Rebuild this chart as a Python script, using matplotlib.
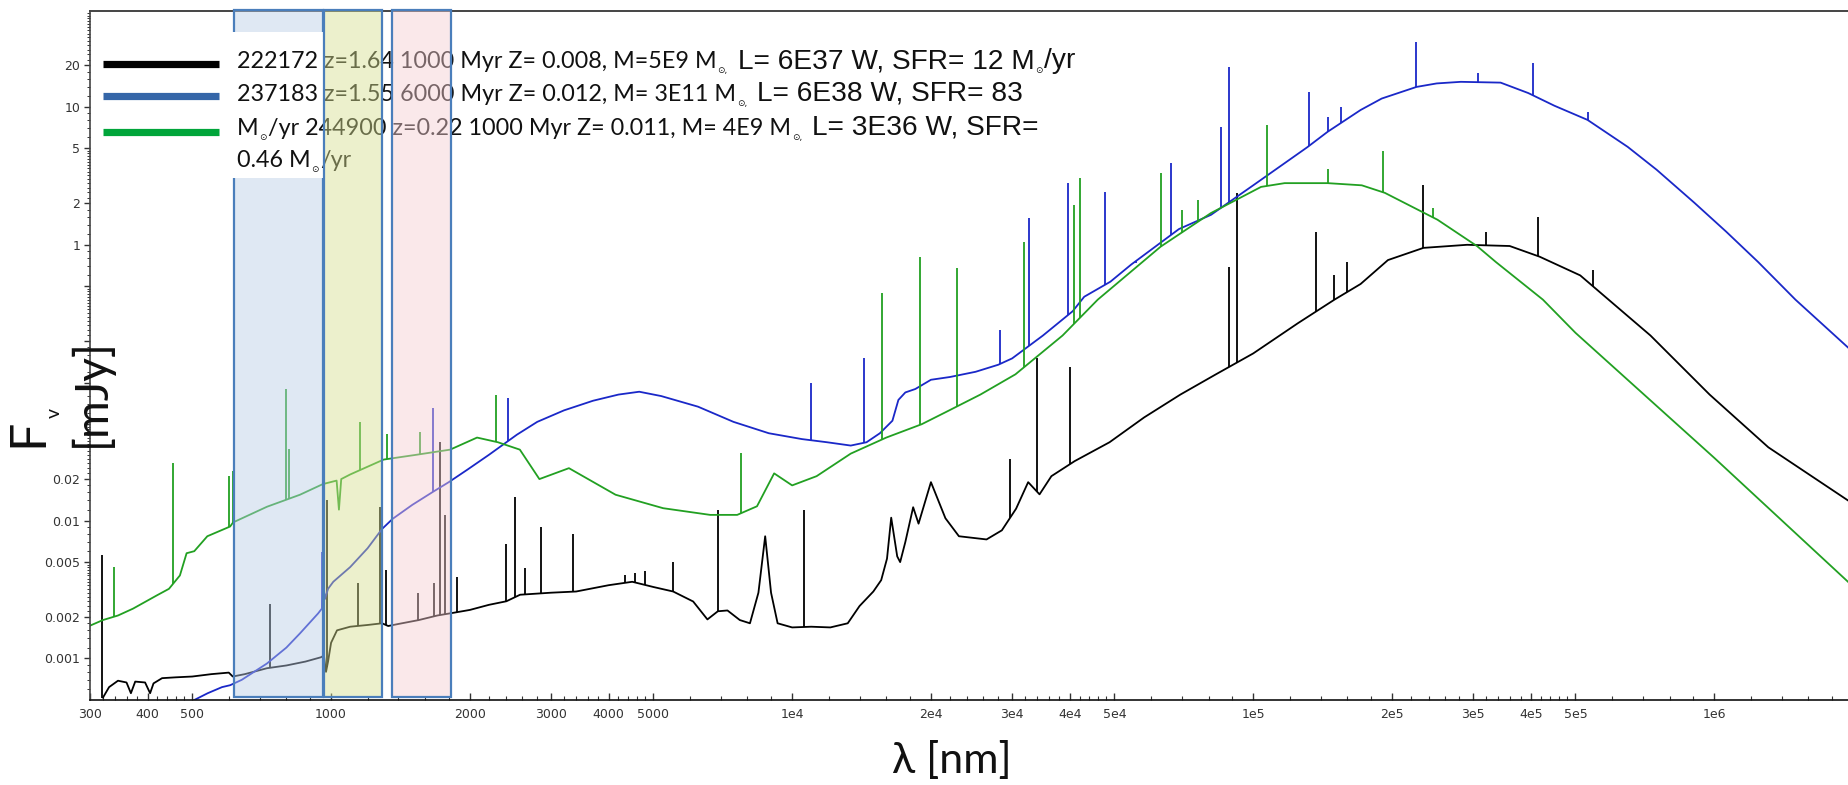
import numpy as np
import matplotlib
matplotlib.use("Agg")
import matplotlib.pyplot as plt
from matplotlib import font_manager
from matplotlib.patches import Rectangle
from matplotlib.lines import Line2D
from matplotlib.transforms import IdentityTransform, blended_transform_factory
from matplotlib.ticker import FixedLocator, FixedFormatter

# ---------------------------------------------------------------- data
# Galaxy 222172 (black): continuum, wavelength [nm] / flux density [mJy]
black_wl = [320, 330, 345, 360, 368, 376, 395, 405, 412, 430, 460, 500, 550, 600, 612,
            650, 726, 800, 880, 950, 965, 975, 985, 1000, 1030, 1100, 1200, 1290, 1330,
            1400, 1550, 1700, 1850, 2000, 2200, 2400, 2570, 3000, 3400, 4000, 4500, 5000,
            5520, 6100, 6550, 6900, 7240, 7700, 8100, 8450, 8740, 9000, 9300, 10000, 11000,
            12100, 13200, 14000, 15000, 15600, 16060, 16400, 16900, 17150, 17600, 18300,
            18800, 20000, 21500, 23000, 26400, 28500, 30600, 32500, 34400, 36500, 41000,
            48800, 58000, 69500, 83000, 100000, 125000, 150000, 171000, 196000, 234000,
            291000, 360000, 418000, 512000, 727000, 977000, 1310000, 1950000]
black_fx = [5.2e-4, 6.2e-4, 6.9e-4, 6.7e-4, 5.6e-4, 6.8e-4, 6.7e-4, 5.6e-4, 6.6e-4, 7.2e-4,
            7.3e-4, 7.4e-4, 7.7e-4, 7.9e-4, 7.4e-4, 7.7e-4, 8.5e-4, 8.9e-4, 9.5e-4, 1.02e-3,
            1.05e-3, 8.0e-4, 9.5e-4, 1.3e-3, 1.6e-3, 1.7e-3, 1.75e-3, 1.8e-3, 1.72e-3, 1.78e-3,
            1.9e-3, 2.05e-3, 2.15e-3, 2.25e-3, 2.45e-3, 2.6e-3, 2.9e-3, 3.0e-3, 3.06e-3, 3.4e-3,
            3.6e-3, 3.3e-3, 3.06e-3, 2.59e-3, 1.92e-3, 2.2e-3, 2.23e-3, 1.9e-3, 1.8e-3, 3.0e-3,
            7.7e-3, 3.0e-3, 1.8e-3, 1.68e-3, 1.7e-3,
            1.68e-3, 1.8e-3, 2.4e-3, 3.06e-3, 3.7e-3, 5.3e-3, 1.05e-2, 5.5e-3, 5.0e-3, 7.0e-3,
            1.25e-2, 9.5e-3, 1.9e-2, 1.04e-2, 7.7e-3, 7.3e-3, 8.5e-3, 1.22e-2, 1.9e-2, 1.55e-2,
            2.1e-2, 2.7e-2, 3.7e-2, 5.6e-2, 8.2e-2, 1.15e-1, 1.63e-1, 2.7e-1, 4.0e-1, 5.2e-1,
            7.75e-1, 9.5e-1, 1.0, 9.8e-1, 8.2e-1, 6.0e-1, 2.2e-1, 8.2e-2, 3.4e-2, 1.4e-2]
black_line_wl = [319, 737, 980, 1146, 1278, 1317, 1540, 1668, 1723, 1764, 1875, 2390, 2500,
                 2630, 2850, 3350, 4340, 4560, 4800, 5520, 6900, 10600, 29700, 34000, 40000,
                 88700, 92000, 136800, 150000, 160000, 234000, 320000, 415000, 545000]
black_line_fx = [5.6e-3, 2.5e-3, 1.42e-2, 3.5e-3, 1.26e-2, 4.4e-3, 3.0e-3, 3.5e-3, 3.7e-2,
                 1.1e-2, 3.9e-3, 6.8e-3, 1.49e-2, 4.5e-3, 9.0e-3, 8.0e-3, 4.0e-3, 4.2e-3,
                 4.3e-3, 5.0e-3, 1.2e-2, 1.2e-2, 2.8e-2, 1.5e-1, 1.3e-1, 0.69, 2.38, 1.23,
                 0.6, 0.75, 2.7, 1.24, 1.59, 0.66]

# Galaxy 237183 (blue)
blue_wl = [505, 540, 580, 604, 640, 700, 726, 800, 856, 937, 955, 962, 970, 985, 1011, 1100,
           1200, 1290, 1360, 1500, 1665, 1800, 1975, 2200, 2530, 2800, 3200, 3700, 4200, 4660,
           5200, 6250, 7460, 8900, 10500, 11900, 13400, 14500, 15500, 16500, 17000, 17600,
           18500, 20000, 22000, 25000, 28000, 30000, 35000, 40600, 43000, 49000, 54400,
           69000, 81000, 100000, 131000, 145000, 171000, 190000, 226000, 250000, 282000,
           344000, 395000, 450000, 531000, 649000, 750000, 905000, 1060000, 1245000,
           1500000, 1950000]
blue_fx = [5.0e-4, 5.6e-4, 6.2e-4, 6.4e-4, 7.0e-4, 8.5e-4, 9.2e-4, 1.2e-3, 1.52e-3, 2.12e-3,
           2.3e-3, 3.5e-3, 2.7e-3, 3.2e-3, 3.6e-3, 4.6e-3, 6.3e-3, 8.7e-3, 1.03e-2, 1.3e-2,
           1.62e-2, 1.9e-2, 2.34e-2, 3.0e-2, 4.2e-2, 5.2e-2, 6.3e-2, 7.4e-2, 8.2e-2, 8.6e-2,
           8.0e-2, 6.7e-2, 5.2e-2, 4.3e-2, 3.9e-2, 3.7e-2, 3.5e-2, 3.7e-2, 4.3e-2, 5.3e-2,
           7.5e-2, 8.5e-2, 9.0e-2, 1.05e-1, 1.1e-1, 1.2e-1, 1.35e-1, 1.5e-1, 2.2e-1, 3.3e-1,
           4.2e-1, 5.4e-1, 7.2e-1, 1.3, 1.65, 2.7, 5.1, 6.6, 9.5, 11.5, 13.96, 14.8, 15.2,
           15.0, 12.6, 10.2, 8.05, 5.13, 3.5, 2.02, 1.25, 0.75, 0.4, 0.18]
blue_line_wl = [955, 1665, 2420, 11000, 14300, 28200, 32600, 39600, 47700, 55600, 66300,
                85000, 88700, 132000, 145000, 155000, 226000, 308000, 404000, 531000]
blue_line_fx = [5.9e-3, 6.5e-2, 7.7e-2, 0.1, 0.15, 0.24, 1.57, 2.8, 2.42, 0.74, 3.93,
                7.2, 19.5, 12.8, 8.4, 10.0, 29.6, 17.6, 20.8, 9.2]

# Galaxy 244900 (green)
green_wl = [300, 320, 345, 372, 419, 445, 470, 486, 505, 539, 604, 613, 726, 856, 960, 1028,
            1040, 1052, 1100, 1300, 1530, 1812, 2073, 2300, 2567, 2830, 3280, 4140, 5250,
            6640, 7600, 8390, 9140, 10000, 11300, 13400, 16000, 19100, 21500, 25600, 30500,
            38600, 46000, 63000, 81000, 104000, 117000, 145000, 172000, 193000, 251000,
            306000, 336000, 425000, 500000, 1000000, 1950000]
green_fx = [1.73e-3, 1.9e-3, 2.05e-3, 2.3e-3, 2.87e-3, 3.2e-3, 4.0e-3, 5.8e-3, 6.0e-3, 7.7e-3,
            9.06e-3, 9.7e-3, 1.26e-2, 1.54e-2, 1.84e-2, 1.95e-2, 1.2e-2, 2.0e-2, 2.16e-2,
            2.77e-2, 3.0e-2, 3.27e-2, 4.0e-2, 3.7e-2, 3.27e-2, 2.0e-2, 2.4e-2, 1.54e-2,
            1.23e-2, 1.1e-2, 1.1e-2, 1.27e-2, 2.2e-2, 1.8e-2, 2.1e-2, 3.06e-2, 4.0e-2, 5.0e-2,
            6.1e-2, 8.2e-2, 1.15e-1, 2.2e-1, 4.0e-1, 9.7e-1, 1.7, 2.63, 2.8, 2.8, 2.7, 2.38,
            1.52, 0.977, 0.75, 0.4, 0.23, 0.0285, 3.6e-3]
green_line_wl = [338, 453, 600, 612, 799, 812, 1155, 1320, 1562, 2283, 7760, 15700, 18900,
                 22800, 31800, 40800, 42000, 63000, 70000, 76000, 107000, 145000, 191000,
                 246000]
green_line_fx = [4.6e-3, 2.6e-2, 2.1e-2, 2.3e-2, 9.06e-2, 3.3e-2, 5.2e-2, 4.28e-2, 4.41e-2,
                 8.18e-2, 3.1e-2, 0.45, 0.82, 0.68, 1.05, 1.95, 3.06, 3.32, 1.8, 2.12, 7.4,
                 3.55, 4.8, 1.85]

# Observed filter windows [nm]
band_lo = [615, 965, 1355]
band_hi = [960, 1290, 1820]

x_major = [300, 400, 500, 1000, 2000, 3000, 4000, 5000, 1e4, 2e4, 3e4, 4e4, 5e4,
           1e5, 2e5, 3e5, 4e5, 5e5, 1e6]
x_labels = ["300", "400", "500", "1000", "2000", "3000", "4000", "5000", "1e4", "2e4",
            "3e4", "4e4", "5e4", "1e5", "2e5", "3e5", "4e5", "5e5", "1e6"]
# the mid-range labels sit under the axis title and are left blank
y_major = [0.001, 0.002, 0.005, 0.01, 0.02, 0.05, 0.1, 0.2, 0.5, 1, 2, 5, 10, 20]
y_labels = ["0.001", "0.002", "0.005", "0.01", "0.02", "", "", "", "",
            "1", "2", "5", "10", "20"]

# ---------------------------------------------------------------- fonts
installed = {f.name for f in font_manager.fontManager.ttflist}
def pick(*names):
    return [n for n in names if n in installed] + ["DejaVu Sans"]

MAIN = pick("Lato", "Open Sans")
NARROW = pick("Liberation Sans Narrow", "DejaVu Sans Condensed", "Liberation Sans")

# ---------------------------------------------------------------- figure
W, H = 1848, 785
fig = plt.figure(figsize=(W / 100, H / 100), dpi=100)
ax = fig.add_axes([90 / W, 85 / H, (W - 90) / W, 689 / H])
ax.set_xscale("log")
ax.set_yscale("log")
ax.set_xlim(300, 1.95e6)
ax.set_ylim(5.0e-4, 49.6)

def minor_values(e0, e1):
    vals = []
    for e in range(e0, e1 + 1):
        d = 10.0 ** e
        vals += [d * m for m in np.arange(1.2, 4.81, 0.2)] + [d * m for m in (6, 7, 8, 9)]
    return vals

ax.xaxis.set_major_locator(FixedLocator(x_major))
ax.xaxis.set_major_formatter(FixedFormatter(x_labels))
ax.xaxis.set_minor_locator(FixedLocator(minor_values(2, 6)))
ax.yaxis.set_major_locator(FixedLocator(y_major))
ax.yaxis.set_major_formatter(FixedFormatter(y_labels))
ax.yaxis.set_minor_locator(FixedLocator(minor_values(-4, 1)))
ax.xaxis.set_minor_formatter(FixedFormatter([]))
ax.yaxis.set_minor_formatter(FixedFormatter([]))

ax.tick_params(axis="x", which="both", direction="in", colors="#333333",
               labelsize=9, pad=6)
ax.tick_params(axis="x", which="major", length=5, width=1)
ax.tick_params(axis="x", which="minor", length=3, width=0.8)
ax.tick_params(axis="y", which="both", direction="out", colors="#333333",
               labelsize=9, pad=3)
ax.tick_params(axis="y", which="major", length=4, width=1)
ax.tick_params(axis="y", which="minor", length=2, width=0.7)
for lab in ax.get_xticklabels() + ax.get_yticklabels():
    lab.set_family("DejaVu Sans")

ax.spines["right"].set_visible(False)
ax.spines["left"].set_color("#444444")
ax.spines["left"].set_linewidth(1.2)
ax.spines["bottom"].set_color("#111111")
ax.spines["bottom"].set_linewidth(1.2)
ax.spines["top"].set_color("#444444")
ax.spines["top"].set_linewidth(1.4)

# ---------------------------------------------------------------- spectra
def line_bases(cwl, cfx, lwl):
    return np.exp(np.interp(np.log(lwl), np.log(cwl), np.log(cfx)))

series = [
    (black_wl, black_fx, black_line_wl, black_line_fx, "#000000"),
    (blue_wl, blue_fx, blue_line_wl, blue_line_fx, "#1a28c8"),
    (green_wl, green_fx, green_line_wl, green_line_fx, "#22a022"),
]
for cwl, cfx, lwl, lfx, col in series:
    ax.plot(cwl, cfx, color=col, lw=1.3, zorder=2)
    ax.vlines(lwl, line_bases(cwl, cfx, lwl), lfx, color=col, lw=1.3, zorder=2)

# ---------------------------------------------------------------- filter windows
bt = blended_transform_factory(ax.transData, ax.transAxes)
band_fill = [(0.73, 0.80, 0.90, 0.45), (0.84, 0.87, 0.56, 0.45), (0.96, 0.80, 0.82, 0.45)]
band_z = [3, 6, 6]
for lo, hi, fc, z in zip(band_lo, band_hi, band_fill, band_z):
    ax.add_patch(Rectangle((lo, 0.004), hi - lo, 0.9975, transform=bt, facecolor=fc,
                           edgecolor="#4a7ebb", lw=1.6, zorder=z, clip_on=False))

# ---------------------------------------------------------------- legend
ID = IdentityTransform()
ax.add_patch(Rectangle((232, H - 178), 91, 146, transform=ID, facecolor="white",
                       edgecolor="none", zorder=4, clip_on=False))
for y, col in zip([64, 96, 132], ["#000000", "#3566a8", "#00a53a"]):
    ax.add_line(Line2D([103, 219], [H - y, H - y], transform=ID, color=col, lw=5.2,
                       solid_capstyle="butt", zorder=5, clip_on=False))

renderer = fig.canvas.get_renderer()

def text_width(s, family, size):
    t = fig.text(0, 0, s, family=family, fontsize=size)
    w = t.get_window_extent(renderer).width
    t.remove()
    return w

# sizes chosen so the first row spans its measured extent
main_size = 17.0 * 479.0 / text_width("222172 z=1.64 1000 Myr Z= 0.008, M=5E9 M", MAIN, 17.0)
main_size = min(main_size, 18.0)
big_size = 22.0 * 297.0 / text_width("L= 6E37 W, SFR= 12 M", NARROW, 22.0)
big_size = min(big_size, 27.0)

styles = {
    "main": dict(family=MAIN, size=main_size, dy=0),
    "big": dict(family=NARROW, size=big_size, dy=0),
    "sub": dict(family=["DejaVu Sans"], size=6.5, dy=-5),
}

def write_row(x, ytop, pieces):
    for kind, s in pieces:
        if kind == "gap":
            x += s
            continue
        st = styles[kind]
        t = ax.text(x, H - ytop + st["dy"], s, transform=ID, family=st["family"],
                    fontsize=st["size"], ha="left", va="baseline", color="#111111",
                    zorder=5, clip_on=False)
        x = t.get_window_extent(renderer).x1 + 1

write_row(237, 68, [("main", "222172 z=1.64 1000 Myr Z= 0.008, M=5E9 M"), ("sub", "\u2299,"),
                    ("gap", 9), ("big", "L= 6E37 W, SFR= 12 M"), ("sub", "\u2299"),
                    ("big", "/yr")])
write_row(237, 101, [("main", "237183 z=1.55 6000 Myr Z= 0.012, M= 3E11 M"), ("sub", "\u2299,"),
                     ("gap", 9), ("big", "L= 6E38 W, SFR= 83")])
write_row(237, 135, [("main", "M"), ("sub", "\u2299"),
                     ("main", "/yr 244900 z=0.22 1000 Myr Z= 0.011, M= 4E9 M"), ("sub", "\u2299,"),
                     ("gap", 9), ("big", "L= 3E36 W, SFR=")])
write_row(237, 167, [("main", "0.46 M"), ("sub", "\u2299"), ("main", "/yr")])

# ---------------------------------------------------------------- axis titles
for s, x, y, size in [("F", 42, 447, 36), ("v", 60, 418, 14), ("[mJy]", 105, 447, 33)]:
    fig.text(x / W, (H - y) / H, s, rotation=90, rotation_mode="anchor", ha="left",
             va="baseline", fontsize=size, family=MAIN, color="#111111")
fig.text(892 / W, (H - 773) / H, "\u03bb [nm]", fontsize=31, family=MAIN,
         ha="left", va="baseline", color="#111111")

fig.savefig("out.png", dpi=100, facecolor="white")
